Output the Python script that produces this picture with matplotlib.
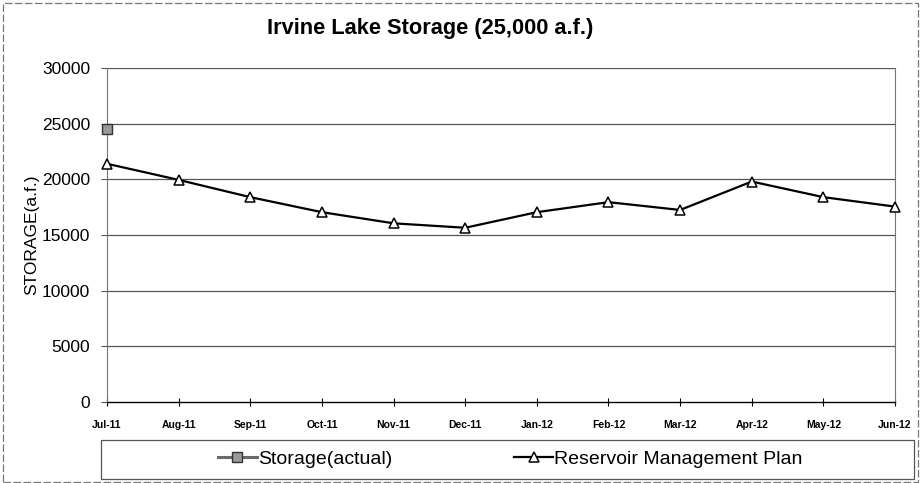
import numpy as np
import matplotlib
matplotlib.use("Agg")
import matplotlib.pyplot as plt
from matplotlib.patches import Rectangle

plt.rcParams['font.family'] = ['Liberation Sans', 'DejaVu Sans']

# data
months = ['Jul-11', 'Aug-11', 'Sep-11', 'Oct-11', 'Nov-11', 'Dec-11',
          'Jan-12', 'Feb-12', 'Mar-12', 'Apr-12', 'May-12', 'Jun-12']
storage_actual = [24500]  # only July reported
plan = [21400, 19950, 18400, 17050, 16050, 15650,
        17050, 17950, 17250, 19800, 18400, 17550]
y_ticks = [0, 5000, 10000, 15000, 20000, 25000, 30000]

x = np.arange(len(months))

fig = plt.figure(figsize=(9.21, 4.83), dpi=100)
ax = fig.add_axes([0.1162, 0.1677, 0.8556, 0.6915])

# gridlines
for yv in y_ticks[1:]:
    ax.axhline(yv, color='#555555', lw=0.9, zorder=1)

ax.plot(x, plan, color='black', lw=1.6, marker='^', markersize=6.5,
        markerfacecolor='white', markeredgecolor='black', markeredgewidth=1.1,
        label='Reservoir Management Plan', zorder=3, clip_on=False)
ax.plot(x[:len(storage_actual)], storage_actual, color='#6a6a6a', lw=2.2,
        marker='s', markersize=6.5, markerfacecolor='#9a9a9a',
        markeredgecolor='#333333', markeredgewidth=1.0,
        label='Storage(actual)', zorder=4, clip_on=False)

ax.set_xlim(0, len(months) - 1)
ax.set_ylim(0, 30000)
ax.set_xticks(x)
ax.set_xticklabels(months, fontsize=7.5, fontweight='bold')
ax.set_yticks(y_ticks)
ax.set_yticklabels([str(v) for v in y_ticks], fontsize=12.5)
ax.tick_params(axis='x', direction='inout', length=6, width=0.8, pad=10)
ax.tick_params(axis='y', direction='out', length=4, width=0.8, pad=8, color='#555555')
ax.set_ylabel('STORAGE(a.f.)', fontsize=12.5, labelpad=2)

ax.spines['top'].set_visible(False)
ax.spines['left'].set_color('#777777')
ax.spines['right'].set_color('#777777')
ax.spines['right'].set_linewidth(0.8)
ax.spines['bottom'].set_color('black')
ax.spines['bottom'].set_linewidth(1.0)

fig.text(0.467, 0.942, 'Irvine Lake Storage (25,000 a.f.)', ha='center', va='center',
         fontsize=15.7, fontweight='bold')

# legend with box
h, l = ax.get_legend_handles_labels()
fig.legend([h[1], h[0]], [l[1], l[0]], loc='center', bbox_to_anchor=(0.554, 0.049),
           ncol=2, frameon=False, fontsize=14, handlelength=2.0, handletextpad=0.05,
           columnspacing=6.3)
fig.patches.append(Rectangle((0.1097, 0.0083), 0.8827, 0.0807, transform=fig.transFigure,
                             fill=False, edgecolor='#555555', lw=0.9))
# outer chart border
fig.patches.append(Rectangle((0.003, 0.002), 0.994, 0.992, transform=fig.transFigure,
                             fill=False, edgecolor='#777777', lw=0.9, linestyle=(0, (6, 2))))

fig.savefig('out.png', dpi=100)
